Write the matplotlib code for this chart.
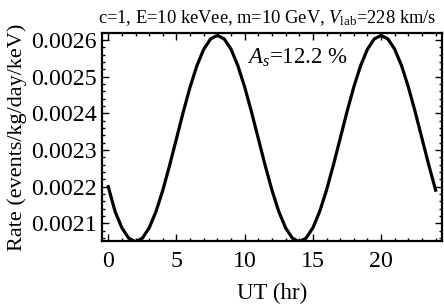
import numpy as np
import matplotlib
matplotlib.use("Agg")
import matplotlib.pyplot as plt
from matplotlib.ticker import MultipleLocator, FormatStrFormatter

plt.rcParams['font.family'] = ['Liberation Serif', 'DejaVu Serif']
plt.rcParams['mathtext.fontset'] = 'custom'
plt.rcParams['mathtext.rm'] = 'Liberation Serif'
plt.rcParams['mathtext.it'] = 'Liberation Serif:italic'

# UT hours (half-hour steps)
ut_hours = [i * 0.5 for i in range(49)]
rate = [
    0.002200, 0.0021323, 0.0020877, 0.0020596, 0.002050, 0.0020596, 0.0020877, 0.0021323,
    0.0021905, 0.0022583, 0.002331, 0.0024037, 0.0024715, 0.0025297, 0.0025743, 0.0026024,
    0.002612, 0.0026024, 0.0025743, 0.0025297, 0.0024715, 0.0024037, 0.002331, 0.0022583,
    0.0021905, 0.0021323, 0.0020877, 0.0020596, 0.002050, 0.0020596, 0.0020877, 0.0021323,
    0.0021905, 0.0022583, 0.002331, 0.0024037, 0.0024715, 0.0025297, 0.0025743, 0.0026024,
    0.002612, 0.0026024, 0.0025743, 0.0025297, 0.0024715, 0.0024037, 0.002331, 0.0022583,
    0.0021905,
]
x_ticks = [0, 5, 10, 15, 20]
y_ticks = [0.0021, 0.0022, 0.0023, 0.0024, 0.0025, 0.0026]

fig = plt.figure(figsize=(4.44, 3.07), dpi=100)
ax = fig.add_axes([0.23, 0.215, 0.765, 0.678])
ax.plot(ut_hours, rate, color='black', lw=2.3, solid_joinstyle='round')
ax.set_xlim(-0.45, 24.45)
ax.set_ylim(0.002052, 0.002619)
ax.set_xticks(x_ticks)
ax.set_yticks(y_ticks)
ax.yaxis.set_major_formatter(FormatStrFormatter('%.4f'))
ax.xaxis.set_minor_locator(MultipleLocator(1))
ax.yaxis.set_minor_locator(MultipleLocator(0.00002))
ax.tick_params(which='both', direction='in', top=True, right=True, labelsize=17.2, width=1.0)
ax.tick_params(which='major', length=5)
ax.tick_params(which='minor', length=2.5)
ax.tick_params(axis='x', pad=7)
ax.tick_params(axis='y', pad=4)
for s in ax.spines.values():
    s.set_linewidth(1.6)
ax.set_xlabel('UT (hr)', fontsize=16.5, labelpad=8)
ax.set_ylabel('Rate (events/kg/day/keV)', fontsize=16, labelpad=3)
ax.set_title(r'c=1, E=10 keVee, m=10 GeV, $V_{\rm lab}$=228 km/s', fontsize=13.3, pad=7, x=0.485)
ax.text(10.2, 0.00255, r'$A_s$=12.2 %', fontsize=16.5, va='center', ha='left')
fig.savefig('out.png', dpi=100)
